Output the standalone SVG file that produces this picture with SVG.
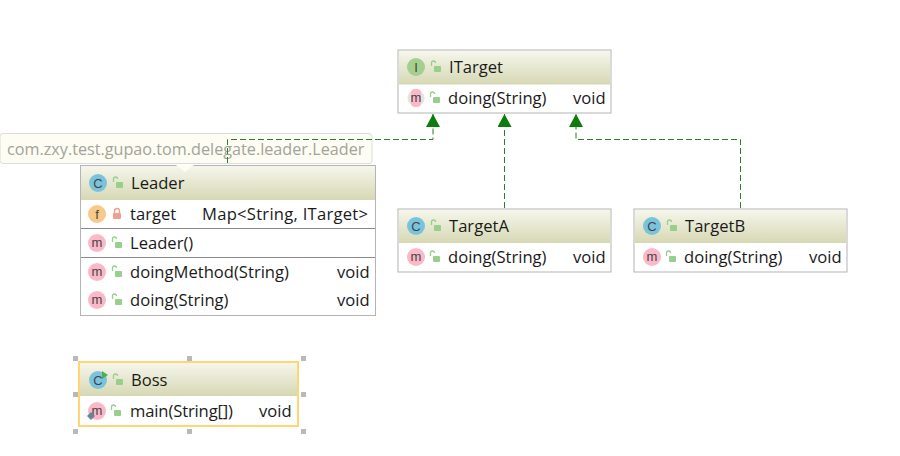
<svg xmlns="http://www.w3.org/2000/svg" width="900" height="456" viewBox="0 0 900 456">
<style>
text{font-family:"Open Sans","Noto Sans",sans-serif;font-size:16.600px;fill:#1a1a1a}
.ic{font-family:"Liberation Sans",sans-serif;font-size:13px;text-anchor:middle;fill:#444}
.box{fill:#fff;stroke:#b4b4b4;stroke-width:1}
.div{stroke:#8a8a8a;stroke-width:1}
.conn{fill:none;stroke:#2f7d32;stroke-width:1;stroke-dasharray:6 3}
.h{fill:#b9b9b9}
.c{fill:#7ac3dc}.m{fill:#fbb8c8}.f{fill:#f8c98a}.i{fill:#a5cf8e}
</style>
<defs>
<linearGradient id="hd" x1="0" y1="0" x2="0" y2="1"><stop offset="0" stop-color="#f6f6ec"/><stop offset="1" stop-color="#d6d8b4"/></linearGradient>
<marker id="arr" markerUnits="userSpaceOnUse" markerWidth="14" markerHeight="14" refX="13" refY="7" orient="auto"><path d="M0 0L13 7L0 14Z" fill="#0b7d0b"/></marker>
<g id="open"><path d="M-4.500 -1v-3a2 2 0 0 1 4 0" fill="none" stroke="#98cf8c" stroke-width="1.300"/><rect x="-2" y="-1" width="7" height="6" rx="1" fill="#98cf8c"/></g>
<g id="lock"><path d="M-2.500 -1v-2a2.500 2.500 0 0 1 5 0v2" fill="none" stroke="#f0a090" stroke-width="1.300"/><rect x="-4" y="-1" width="8" height="6" rx="1" fill="#f0a090"/></g>
</defs>

<g id="tooltip">
<rect x="0" y="133.500" width="372" height="30" rx="3" fill="#fdfdf3" stroke="#dcdcdc"/>
<text x="7" y="154.500" style="fill:#a3a39b;font-size:16.200px">com.zxy.test.gupao.tom.delegate.leader.Leader</text>
</g>

<g id="ITarget">
<rect class="box" x="398" y="50" width="213" height="63"/>
<rect x="399" y="51" width="211" height="33.500" fill="url(#hd)"/>
<circle class="i" cx="416" cy="67" r="9"/><text class="ic" x="416" y="71.500">I</text>
<use href="#open" x="436" y="67"/>
<text x="449" y="73">ITarget</text>
<circle cx="416" cy="98" r="8.500" fill="#e4e4e4"/><rect x="411" y="89" width="10" height="18" rx="4" class="m"/><text class="ic" x="416" y="102">m</text>
<use href="#open" x="435" y="98"/>
<text x="448" y="104">doing(String)</text>
<text x="573" y="104">void</text>
</g>

<g id="TargetA">
<rect class="box" x="398" y="209" width="213" height="63"/>
<rect x="399" y="210" width="211" height="33" fill="url(#hd)"/>
<circle class="c" cx="416" cy="226" r="9"/><text class="ic" x="416" y="230.500">C</text>
<use href="#open" x="436" y="226"/>
<text x="449" y="232">TargetA</text>
<circle class="m" cx="416" cy="257" r="9"/><text class="ic" x="416" y="261">m</text>
<use href="#open" x="435" y="257"/>
<text x="448" y="263">doing(String)</text>
<text x="573" y="263">void</text>
</g>

<g id="TargetB">
<rect class="box" x="634" y="209" width="213" height="63"/>
<rect x="635" y="210" width="211" height="33" fill="url(#hd)"/>
<circle class="c" cx="652" cy="226" r="9"/><text class="ic" x="652" y="230.500">C</text>
<use href="#open" x="672" y="226"/>
<text x="685" y="232">TargetB</text>
<circle class="m" cx="652" cy="257" r="9"/><text class="ic" x="652" y="261">m</text>
<use href="#open" x="671" y="257"/>
<text x="684" y="263">doing(String)</text>
<text x="809" y="263">void</text>
</g>

<g id="Leader">
<rect class="box" x="80.500" y="165.500" width="295" height="150"/>
<rect x="81" y="166" width="294" height="34" fill="url(#hd)"/>
<path d="M176 165L185 172L194 165Z" fill="#fdfdf3"/>
<circle class="c" cx="98" cy="183" r="9"/><text class="ic" x="98" y="187.500">C</text>
<use href="#open" x="118" y="183"/>
<text x="131" y="189">Leader</text>
<circle class="f" cx="97" cy="214" r="9"/><text class="ic" x="97" y="218.500">f</text>
<use href="#lock" x="117" y="214"/>
<text x="130" y="220">target</text>
<text x="202" y="220" textLength="166">Map&lt;String, ITarget&gt;</text>
<line class="div" x1="81" y1="228.500" x2="375" y2="228.500"/>
<circle class="m" cx="97" cy="243" r="9"/><text class="ic" x="97" y="247">m</text>
<use href="#open" x="117" y="243"/>
<text x="130" y="249">Leader()</text>
<line class="div" x1="81" y1="257.500" x2="375" y2="257.500"/>
<circle class="m" cx="97" cy="272" r="9"/><text class="ic" x="97" y="276">m</text>
<use href="#open" x="117" y="272"/>
<text x="130" y="278">doingMethod(String)</text>
<text x="337" y="278">void</text>
<circle class="m" cx="97" cy="300" r="9"/><text class="ic" x="97" y="304">m</text>
<use href="#open" x="117" y="300"/>
<text x="130" y="306">doing(String)</text>
<text x="337" y="306">void</text>
</g>

<g id="Boss">
<rect x="79" y="362" width="219" height="64" fill="#fff" stroke="#ffd673" stroke-width="2"/>
<rect x="80" y="363" width="217" height="33" fill="url(#hd)"/>
<circle class="c" cx="98" cy="380" r="9"/><text class="ic" x="98" y="384.500">C</text>
<path d="M102 371l6 4l-6 4Z" fill="#4caf50"/>
<use href="#open" x="118" y="380"/>
<text x="131" y="386">Boss</text>
<circle class="m" cx="97" cy="411" r="9"/><text class="ic" x="97" y="415">m</text>
<path d="M91 412l4 4l-4 4l-4-4Z" fill="#6d8296"/>
<use href="#open" x="116" y="411"/>
<text x="130" y="417" textLength="103">main(String[])</text>
<text x="259" y="417">void</text>
<rect class="h" x="73" y="356" width="5" height="5"/><rect class="h" x="187" y="356" width="5" height="5"/><rect class="h" x="301" y="356" width="5" height="5"/>
<rect class="h" x="73" y="392" width="5" height="5"/><rect class="h" x="301" y="392" width="5" height="5"/>
<rect class="h" x="73" y="429" width="5" height="5"/><rect class="h" x="187" y="429" width="5" height="5"/><rect class="h" x="301" y="429" width="5" height="5"/>
</g>

<g id="connectors">
<path class="conn" marker-end="url(#arr)" d="M227.500 163V139.500H433V114"/>
<path class="conn" marker-end="url(#arr)" d="M504.500 208V114"/>
<path class="conn" marker-end="url(#arr)" d="M740.500 208V139.500H576V114"/>
</g>
</svg>
